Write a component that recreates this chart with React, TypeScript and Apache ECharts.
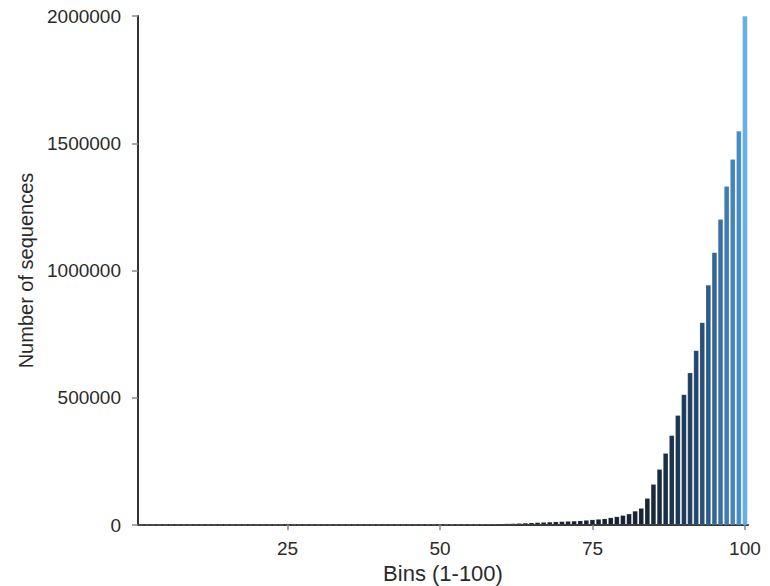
import React, { useEffect, useRef } from "react";
import * as echarts from "echarts";

const bins: string[] = [
  "1","2","3","4","5","6","7","8","9","10",
  "11","12","13","14","15","16","17","18","19","20",
  "21","22","23","24","25","26","27","28","29","30",
  "31","32","33","34","35","36","37","38","39","40",
  "41","42","43","44","45","46","47","48","49","50",
  "51","52","53","54","55","56","57","58","59","60",
  "61","62","63","64","65","66","67","68","69","70",
  "71","72","73","74","75","76","77","78","79","80",
  "81","82","83","84","85","86","87","88","89","90",
  "91","92","93","94","95","96","97","98","99","100",
];

// Number of sequences per bin
const counts: number[] = [
  100, 110, 120, 130, 140, 150, 160, 180, 200, 210,
  220, 240, 250, 270, 290, 300, 320, 340, 360, 380,
  400, 420, 440, 460, 480, 500, 520, 550, 580, 600,
  630, 660, 700, 730, 760, 800, 840, 880, 920, 960,
  1000, 1050, 1100, 1150, 1200, 1260, 1320, 1380, 1450, 1520,
  1600, 1700, 1800, 1900, 2000, 2500, 3000, 3500, 4000, 5000,
  5500, 6000, 7000, 8000, 9000, 10000, 11000, 12000, 13000, 14000,
  15000, 16000, 17000, 19000, 21000, 23000, 25000, 29000, 33000, 38000,
  44000, 55000, 66000, 105000, 160000, 219000, 282000, 352000, 431000, 513000,
  598000, 686000, 796000, 943000, 1071000, 1201000, 1331000, 1437000, 1548000, 2000000,
];

const yTicks: number[] = [0, 500000, 1000000, 1500000, 2000000];
const xTickBins: number[] = [25, 50, 75, 100];

const xTitle = "Bins (1-100)";
const yTitle = "Number of sequences";

export default function App() {
  const ref = useRef<HTMLDivElement>(null);

  useEffect(() => {
    if (!ref.current) return;
    const chart = echarts.init(ref.current, undefined, { renderer: "svg" });
    const font = "Liberation Sans, Arial, Helvetica, sans-serif";
    const showTick = (idx: number) => xTickBins.indexOf(idx + 1) >= 0;
    chart.setOption({
      animation: false,
      backgroundColor: "#ffffff",
      grid: {
        left: 138,
        right: 22,
        top: 16,
        bottom: 61,
        containLabel: false,
        outerBoundsMode: "none",
      },
      visualMap: {
        show: false,
        type: "continuous",
        min: 0,
        max: 2000000,
        dimension: 1,
        seriesIndex: 0,
        inRange: {
          color: ["#17212f", "#1d3a58", "#2f5f8f", "#4689c2", "#62b0e8"],
        },
      },
      xAxis: {
        type: "category",
        data: bins,
        boundaryGap: true,
        name: xTitle,
        nameLocation: "middle",
        nameGap: 34,
        nameTextStyle: { fontFamily: font, fontSize: 22, color: "#2a2a2a" },
        axisLine: { show: true, lineStyle: { color: "#333333", width: 2 } },
        axisTick: {
          show: true,
          alignWithLabel: true,
          interval: (idx: number) => showTick(idx),
          length: 5,
          lineStyle: { color: "#888888", width: 1.5 },
        },
        axisLabel: {
          interval: (idx: number) => showTick(idx),
          fontFamily: font,
          fontSize: 19,
          color: "#2a2a2a",
          margin: 14,
        },
        splitLine: { show: false },
      },
      yAxis: {
        type: "value",
        min: yTicks[0],
        max: yTicks[yTicks.length - 1],
        interval: 500000,
        name: yTitle,
        nameLocation: "middle",
        nameGap: 101,
        nameRotate: 90,
        nameTextStyle: { fontFamily: font, fontSize: 20, color: "#2a2a2a" },
        axisLine: { show: true, lineStyle: { color: "#333333", width: 2 } },
        axisTick: { show: true, length: 6, lineStyle: { color: "#888888", width: 1.5 } },
        axisLabel: {
          fontFamily: font,
          fontSize: 19,
          color: "#2a2a2a",
          margin: 17,
          formatter: (v: number) => String(v),
        },
        splitLine: { show: false },
      },
      series: [
        {
          type: "bar",
          data: counts,
          barCategoryGap: "16%",
          itemStyle: { borderColor: "rgba(255,255,255,0.25)", borderWidth: 0.5 },
        },
      ],
    });
    return () => chart.dispose();
  }, []);

  return (
    <div
      ref={ref}
      style={{ position: "fixed", left: 0, top: 0, width: 770, height: 586 }}
    />
  );
}
